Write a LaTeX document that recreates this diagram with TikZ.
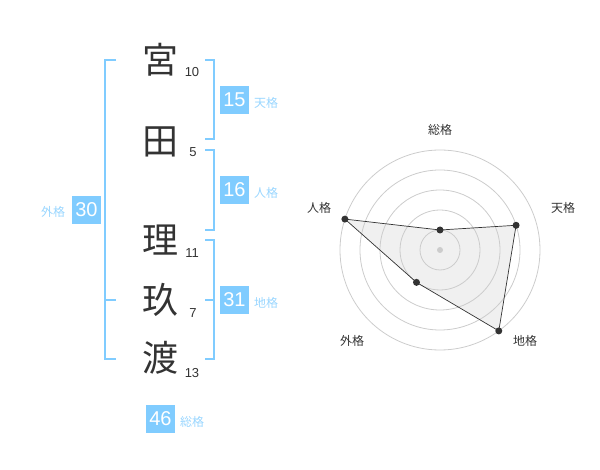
\documentclass[tikz,border=0pt]{standalone}
\usepackage{fontspec}
\setmainfont{Liberation Sans}
\newfontfamily\jp{Noto Sans CJK JP}
\definecolor{kakublue}{HTML}{80CCFF}
\definecolor{kakutext}{HTML}{99D6FF}
\definecolor{inkgray}{HTML}{333333}
\tikzset{
  kanji/.style={font=\jp\fontsize{36}{36}\selectfont, text=inkgray, inner sep=0pt},
  strokes/.style={font=\fontsize{13}{13}\selectfont, text=inkgray, inner sep=0pt},
  kakubox/.style={fill=kakublue, text=white, font=\fontsize{20}{20}\selectfont,
    minimum width=29pt, minimum height=28pt, inner sep=0pt},
  kakuname/.style={font=\jp\fontsize{12}{12}\selectfont, text=kakutext, inner sep=0pt},
  bracket/.style={draw=kakublue, line width=2pt},
  ring/.style={draw=black!20, line width=0.8pt},
  dot/.style={circle, fill=inkgray, inner sep=0pt, minimum size=7pt},
  axisname/.style={font=\jp\fontsize{12}{12}\selectfont, text=inkgray, inner sep=0pt}
}
\begin{document}
\begin{tikzpicture}[x=1pt, y=-1pt]
  \useasboundingbox (0,0) rectangle (600,470);
  % name and strokes
  \node[kanji] (k1) at (160,60) {宮};
  \node[kanji] (k2) at (160,142) {田};
  \node[kanji] (k3) at (160,240) {理};
  \node[kanji] (k4) at (160,300) {玖};
  \node[kanji] (k5) at (160,358) {渡};
  \node[strokes] (s1) at (192,72) {10};
  \node[strokes] (s2) at (193,152) {5};
  \node[strokes] (s3) at (192,253) {11};
  \node[strokes] (s4) at (193,313) {7};
  \node[strokes] (s5) at (192,373) {13};
  % brackets
  \draw[bracket] (116,60) -- (105,60) -- (105,359) -- (116,359);
  \draw[bracket] (105,300) -- (116,300);
  \draw[bracket] (205,60) -- (214,60) -- (214,139) -- (205,139);
  \draw[bracket] (205,150) -- (214,150) -- (214,230) -- (205,230);
  \draw[bracket] (205,240) -- (214,240) -- (214,359) -- (205,359);
  \draw[bracket] (205,300) -- (214,300);
  % kaku
  \node[kakubox] (gai) at (86.5,210) {30};
  \node[kakuname] (gainame) at (53,212) {外格};
  \node[kakubox] (ten) at (234.5,100) {15};
  \node[kakuname] (tenname) at (266,103) {天格};
  \node[kakubox] (jin) at (234.5,190) {16};
  \node[kakuname] (jinname) at (266,193) {人格};
  \node[kakubox] (chi) at (234.5,300) {31};
  \node[kakuname] (chiname) at (266,303) {地格};
  \node[kakubox] (sou) at (160.5,419) {46};
  \node[kakuname] (souname) at (192,422) {総格};
  % radar
  \begin{scope}[shift={(440,250)}, x=1pt, y=1pt]
    \coordinate (pSou) at (90:20);
    \coordinate (pTen) at (18:80);
    \coordinate (pChi) at (-54:100);
    \coordinate (pGai) at (-126:40);
    \coordinate (pJin) at (162:100);
    \fill[black!6] (pSou) -- (pTen) -- (pChi) -- (pGai) -- (pJin) -- cycle;
    \foreach \r in {20,40,60,80,100}
      \draw[ring] (0,0) circle[radius=\r pt];
    \fill[black!20] (0,0) circle[radius=3pt];
    \draw[inkgray, line width=0.7pt] (pSou) -- (pTen) -- (pChi) -- (pGai) -- (pJin) -- cycle;
    \foreach \p in {pSou,pTen,pChi,pGai,pJin}
      \node[dot] at (\p) {};
  \end{scope}
  \node[axisname] (aSou) at (440,130) {総格};
  \node[axisname] (aTen) at (563,208) {天格};
  \node[axisname] (aChi) at (525,341) {地格};
  \node[axisname] (aGai) at (352,341) {外格};
  \node[axisname] (aJin) at (319,208) {人格};
\end{tikzpicture}
\end{document}
